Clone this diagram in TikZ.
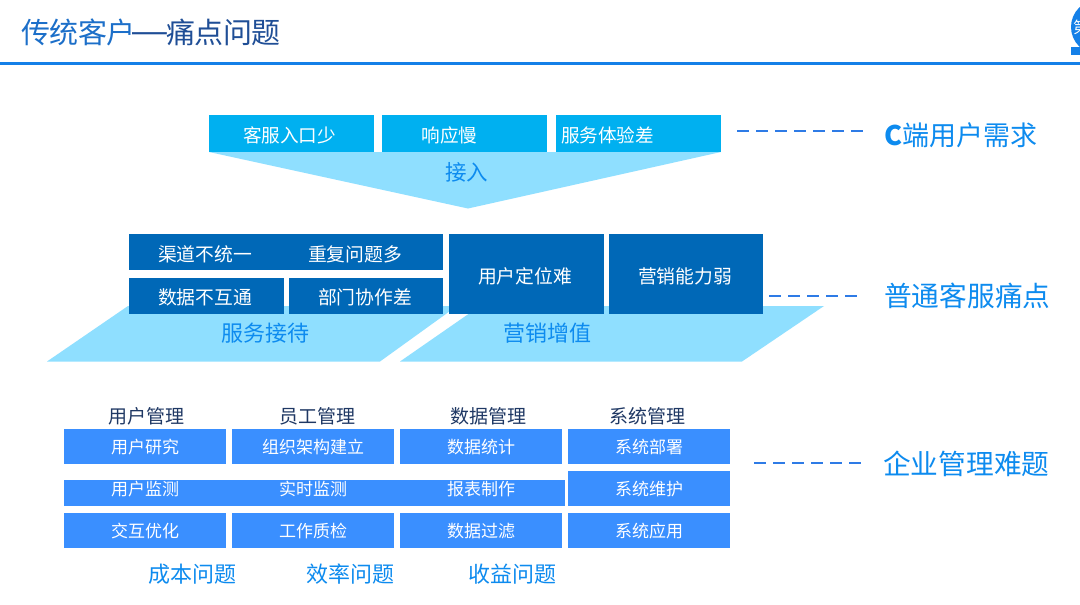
\documentclass[tikz,border=0pt]{standalone}
\usepackage{fontspec}
\setmainfont{Noto Sans CJK SC}
\definecolor{cyanbox}{HTML}{00B0F0}
\definecolor{pale}{HTML}{8FDFFF}
\definecolor{darkbox}{HTML}{0068B7}
\definecolor{midbox}{HTML}{3A8FFF}
\definecolor{accent}{HTML}{0D8BEF}
\definecolor{rulec}{HTML}{1480E8}
\definecolor{dashc}{HTML}{2E7BE6}
\definecolor{headc}{HTML}{1F3864}
\definecolor{tblue}{HTML}{1C6FC9}
\definecolor{tdark}{HTML}{1F4E96}
\tikzset{
  x=1pt,y=-1pt,
  boxbase/.style={anchor=north west,inner sep=0pt,outer sep=0pt},
  cbox/.style={boxbase,fill=cyanbox,minimum height=37pt},
  dbox/.style={boxbase,fill=darkbox},
  mbox/.style={boxbase,fill=midbox,minimum height=35pt,minimum width=162pt},
  lblc/.style={inner sep=0pt,text=white,font=\fontsize{18.6}{20}\selectfont},
  lbld/.style={inner sep=0pt,text=white,font=\fontsize{18.8}{20}\selectfont},
  lblm/.style={inner sep=0pt,text=white,font=\fontsize{17}{20}\selectfont},
  plab/.style={inner sep=0pt,text=accent,font=\fontsize{22}{24}\selectfont},
  bluelab/.style={inner sep=0pt,text=accent,font=\fontsize{22}{24}\selectfont},
  side/.style={inner sep=0pt,text=accent,anchor=west,font=\fontsize{27.7}{30}\selectfont},
  head/.style={inner sep=0pt,text=headc,font=\fontsize{19}{20}\selectfont},
  dashl/.style={draw=dashc,line width=2.5pt,dash pattern=on 12pt off 7pt},
}
\begin{document}
\begin{tikzpicture}
\useasboundingbox (0,0) rectangle (1080,605);
\fill[white] (0,0) rectangle (1080,605);
% title
\node[anchor=west,inner sep=0pt,font=\fontsize{29}{32}\selectfont\addfontfeature{LetterSpace=-2}] (title) at (21,32) {\textcolor{tblue}{传统客户}\kern-5pt\textcolor{tdark}{\scalebox{1.5}[1.2]{—}\kern-3pt 痛点问题}};
\fill[rulec] (0,61.5) rectangle (1080,64.5);
% logo
\begin{scope}
\clip (0,0) rectangle (1080,605);
\fill[rulec] (1071,47) rectangle (1080,55);
\fill[rulec] (1098,27) circle (27);
\node[text=white,inner sep=0pt,font=\fontsize{16}{18}\selectfont] (logo) at (1081,27) {第};
\end{scope}
% top funnel
\fill[pale] (209,152) -- (721,152) -- (468,208.5) -- cycle;
\node[cbox,minimum width=165pt] (a1) at (209,115) {};
\node[cbox,minimum width=165pt] (a2) at (382,115) {};
\node[cbox,minimum width=165pt] (a3) at (556,115) {};
\node[lblc] at (289.5,135) {客服入口少};
\node[lblc] at (449.5,135) {响应慢};
\node[lblc] at (607.5,135) {服务体验差};
\node[bluelab,font=\fontsize{21.5}{24}\selectfont] (jr) at (466.5,172) {接入};
% parallelograms
\fill[pale] (47,361.5) -- (128,306) -- (457,306) -- (380,361.5) -- cycle;
\fill[pale] (400,361.5) -- (480,306) -- (824,306) -- (742,361.5) -- cycle;
\node[plab] (p1) at (265,333) {服务接待};
\node[plab] (p2) at (547.5,333) {营销增值};
% dark boxes
\node[dbox,minimum width=314pt,minimum height=36pt] (b1) at (129,234) {};
\node[dbox,minimum width=155pt,minimum height=36pt] (b2) at (129,278) {};
\node[dbox,minimum width=154pt,minimum height=36pt] (b3) at (289,278) {};
\node[dbox,minimum width=155pt,minimum height=80pt] (b4) at (449,234) {};
\node[dbox,minimum width=154pt,minimum height=80pt] (b5) at (609,234) {};
\node[lbld] at (205,254) {渠道不统一};
\node[lbld] at (355,254) {重复问题多};
\node[lbld] at (205,297) {数据不互通};
\node[lbld] at (365,297) {部门协作差};
\node[lbld] at (525,276) {用户定位难};
\node[lbld] at (685,276) {营销能力弱};
% headers
\node[head] at (146,416) {用户管理};
\node[head] at (317,416) {员工管理};
\node[head] at (488,416) {数据管理};
\node[head] at (647,416) {系统管理};
% grid
\node[mbox] (c11) at (64,429) {};
\node[mbox] (c12) at (232,429) {};
\node[mbox] (c13) at (400,429) {};
\node[mbox] (c14) at (568,429) {};
\node[boxbase,fill=midbox,minimum width=501pt,minimum height=26pt] (c2) at (64,480) {};
\node[boxbase,fill=midbox,minimum width=162pt,minimum height=35pt] (c24) at (568,471) {};
\node[mbox] (c31) at (64,513) {};
\node[mbox] (c32) at (232,513) {};
\node[mbox] (c33) at (400,513) {};
\node[mbox] (c34) at (568,513) {};
\foreach \tx/\px/\py in {用户研究/145/447,组织架构建立/313/447,数据统计/481/447,系统部署/649/447,
  用户监测/145/489,实时监测/313/489,报表制作/481/489,系统维护/649/489,
  交互优化/145/531,工作质检/313/531,数据过滤/481/531,系统应用/649/531}
  \node[lblm] at (\px,\py) {\tx};
% bottom labels
\node[bluelab] at (192.5,574) {成本问题};
\node[bluelab] at (350,574) {效率问题};
\node[bluelab] at (512.5,574) {收益问题};
% side labels
\node[side,font=\fontsize{27}{30}\selectfont] (s1) at (884,135) {{\bfseries C}端用户需求};
\node[side] (s2) at (884,296) {普通客服痛点};
\node[side] (s3) at (883,464) {企业管理难题};
\coordinate (d1a) at (737,131); \coordinate (d1b) at (864,131);
\coordinate (d2a) at (769,296); \coordinate (d2b) at (860,296);
\coordinate (d3a) at (754,463); \coordinate (d3b) at (861,463);
\draw[dashl] (d1a) -- (d1b);
\draw[dashl] (d2a) -- (d2b);
\draw[dashl] (d3a) -- (d3b);
\end{tikzpicture}
\end{document}
